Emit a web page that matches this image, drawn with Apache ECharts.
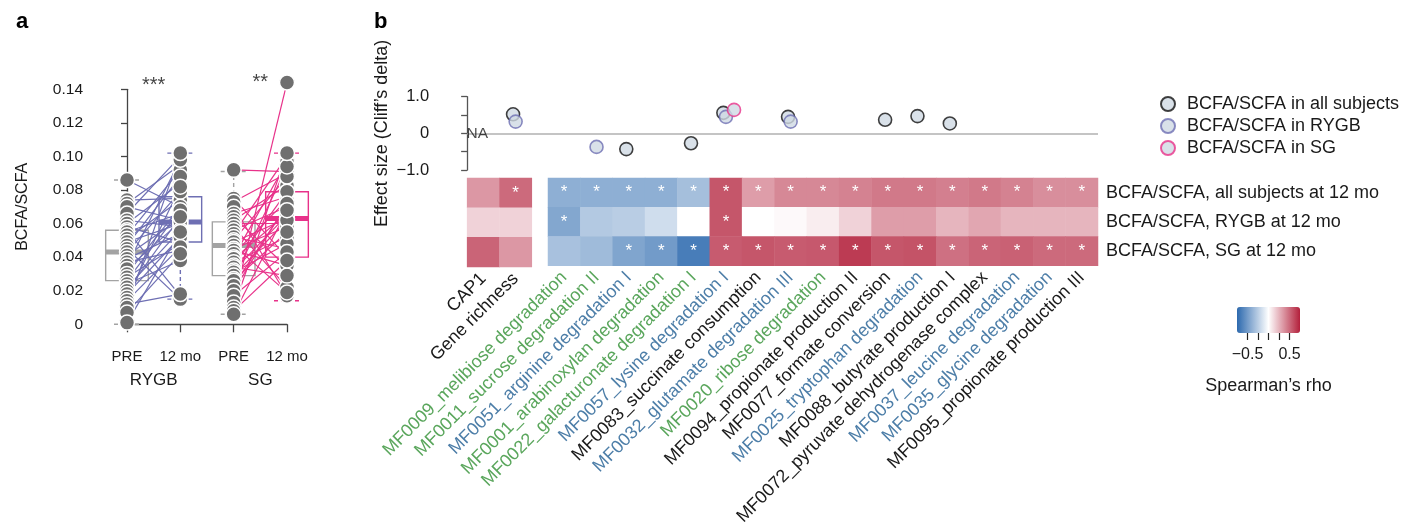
<!DOCTYPE html>
<html>
<head>
<meta charset="utf-8">
<script src="https://cdn.jsdelivr.net/npm/echarts@6/dist/echarts.min.js"></script>
<style>
  html, body { margin: 0; padding: 0; background: #fff; }
  #chart { width: 1413px; height: 528px; }
</style>
</head>
<body>
<div id="chart"></div>
<script>
// ---------- Panel a: BCFA/SCFA before and 12 months after surgery ----------
const timepoints = ['PRE', '12 mo', 'PRE', '12 mo'];
const surgeries = ['RYGB', 'SG'];

// paired subjects (same index = same subject)
const rygbPre  = [0.086, 0.074, 0.072, 0.070, 0.066, 0.062, 0.060, 0.058, 0.056, 0.055, 0.053, 0.051, 0.049, 0.047, 0.045, 0.043, 0.041,
                  0.039, 0.037, 0.035, 0.033, 0.030, 0.028, 0.026, 0.024, 0.022, 0.020, 0.018, 0.016, 0.014, 0.012, 0.010, 0.007, 0.001];
const rygbPost = [0.070, 0.075, 0.095, 0.062, 0.100, 0.058, 0.084, 0.049, 0.017, 0.066, 0.092, 0.074, 0.060, 0.088, 0.015, 0.079, 0.063,
                  0.054, 0.044, 0.098, 0.061, 0.070, 0.048, 0.068, 0.038, 0.056, 0.064, 0.052, 0.082, 0.046, 0.018, 0.102, 0.042, 0.055];
const sgPre  = [0.092, 0.075, 0.073, 0.070, 0.066, 0.064, 0.062, 0.060, 0.058, 0.056, 0.054, 0.052, 0.050, 0.049, 0.047, 0.045, 0.044, 0.042,
                0.040, 0.039, 0.037, 0.035, 0.034, 0.032, 0.031, 0.029, 0.027, 0.026, 0.023, 0.020, 0.017, 0.013, 0.010, 0.008, 0.006];
const sgPost = [0.091, 0.040, 0.090, 0.017, 0.076, 0.034, 0.083, 0.060, 0.022, 0.070, 0.100, 0.045, 0.088, 0.063, 0.019, 0.058, 0.035, 0.074,
                0.097, 0.066, 0.052, 0.079, 0.029, 0.065, 0.048, 0.062, 0.094, 0.055, 0.071, 0.072, 0.043, 0.144, 0.102, 0.038, 0.068];

// box summaries: [lower whisker, Q1, median, Q3, upper whisker]
const rygbPreBox  = [0.000, 0.026, 0.043, 0.056, 0.086];
const rygbPostBox = [0.015, 0.049, 0.061, 0.076, 0.102];
const sgPreBox    = [0.006, 0.029, 0.047, 0.061, 0.091];
const sgPostBox   = [0.014, 0.040, 0.063, 0.079, 0.102];
const boxStats = [rygbPreBox, rygbPostBox, sgPreBox, sgPostBox];

const pairStars = ['***', '**'];
const starLevel = [0.142, 0.144];

// ---------- Panel b: associations with BCFA/SCFA ----------
const features = [
  'CAP1', 'Gene richness',
  'MF0009_melibiose degradation', 'MF0011_sucrose degradation II', 'MF0051_arginine degradation I',
  'MF0001_arabinoxylan degradation', 'MF0022_galacturonate degradation I', 'MF0057_lysine degradation I',
  'MF0083_succinate consumption', 'MF0032_glutamate degradation III', 'MF0020_ribose degradation',
  'MF0094_propionate production II', 'MF0077_formate conversion', 'MF0025_tryptophan degradation',
  'MF0088_butyrate production I', 'MF0072_pyruvate dehydrogenase complex', 'MF0037_leucine degradation',
  'MF0035_glycine degradation', 'MF0095_propionate production III'
];
const featureClass = ['other', 'other', 'carb', 'carb', 'amino', 'carb', 'carb', 'amino', 'other', 'amino', 'carb',
                      'other', 'other', 'amino', 'other', 'other', 'amino', 'amino', 'other'];
const heatRows = ['BCFA/SCFA, all subjects at 12 mo', 'BCFA/SCFA, RYGB at 12 mo', 'BCFA/SCFA, SG at 12 mo'];

// Spearman's rho per feature
const rhoAll  = [0.35, 0.50, -0.40, -0.40, -0.40, -0.40, -0.32, 0.57, 0.33, 0.40, 0.40, 0.42, 0.45, 0.45, 0.43, 0.45, 0.42, 0.38, 0.38];
const rhoRygb = [0.15, 0.15, -0.44, -0.27, -0.25, -0.17, 0.00, 0.57, 0.00, 0.02, 0.06, 0.15, 0.33, 0.33, 0.25, 0.30, 0.25, 0.25, 0.25];
const rhoSg   = [0.52, 0.35, -0.31, -0.34, -0.45, -0.50, -0.65, 0.55, 0.57, 0.55, 0.56, 0.66, 0.57, 0.58, 0.48, 0.52, 0.53, 0.50, 0.50];
// significance flags
const sigAll  = [0, 1, 1, 1, 1, 1, 1, 1, 1, 1, 1, 1, 1, 1, 1, 1, 1, 1, 1];
const sigRygb = [0, 0, 1, 0, 0, 0, 0, 1, 0, 0, 0, 0, 0, 0, 0, 0, 0, 0, 0];
const sigSg   = [0, 0, 0, 0, 1, 1, 1, 1, 1, 1, 1, 1, 1, 1, 1, 1, 1, 1, 1];

// Cliff's delta of the feature change (null = no point drawn)
const deltaAll  = [null, 0.52, null, null, -0.43, null, -0.27, 0.56, null, 0.45, null, null, 0.37, 0.47, 0.27, null, null, null, null];
const deltaRygb = [null, 0.32, null, -0.37, null, null, null, 0.45, null, 0.32, null, null, null, null, null, null, null, null, null];
const deltaSg   = [null, null, null, null, null, null, null, 0.64, null, null, null, null, null, null, null, null, null, null, null];
const naFeatures = ['CAP1'];

const colorbarTicks = [-0.5, -0.25, 0, 0.25, 0.5];
const colorbarLabels = [-0.5, 0.5];

// ---------- styling / layout ----------
const FONT = 'Liberation Sans, Arial, sans-serif';
const TXT = '#1a1a1a';
const RYGB_C = '#6e6fb3';
const SG_C = '#e8328a';
const PRE_C = '#a3a3a3';
const boxColors = [PRE_C, RYGB_C, PRE_C, SG_C];
const labelColors = { other: '#1a1a1a', carb: '#5aa65c', amino: '#4d7ea8' };
const FS_B = 18;

const HM_RIGHT = 1098, HM_LEFT = 548, HM_TOP = 178, HM_H = 89;
const nMF = features.length - 2;
const unit = (HM_RIGHT - HM_LEFT) / nMF;
const effLeft = HM_RIGHT - (features.length + 0.5) * unit;

// x position of a feature column on the effect-size axis (half-column gap after the first two)
const colPos = i => (i < 2 ? i + 0.5 : i + 1.0);
const separators = [7, 12, 17].map(i => colPos(i) - 0.5);

function effectData(arr, dodge) {
  const out = [];
  arr.forEach((v, i) => { if (v !== null) out.push([colPos(i) + dodge, v]); });
  return out;
}

function heatData(start, end) {
  const out = [];
  [rhoAll, rhoRygb, rhoSg].forEach((row, r) => {
    const sig = [sigAll, sigRygb, sigSg][r];
    for (let i = start; i < end; i++) out.push([i - start, r, row[i], sig[i]]);
  });
  return out;
}

function renderBox(params, api) {
  const x = api.value(0);
  const lo = api.coord([x, api.value(1)]);
  const q1 = api.coord([x, api.value(2)]);
  const md = api.coord([x, api.value(3)]);
  const q3 = api.coord([x, api.value(4)]);
  const hi = api.coord([x, api.value(5)]);
  const c = boxColors[params.dataIndex];
  const half = api.size([1, 0])[0] * 0.4;
  const cap = 13;
  const cx = lo[0];
  const thin = { stroke: c, lineWidth: 1.4, fill: null };
  const dash = { stroke: c, lineWidth: 1.4, lineDash: [4, 3] };
  return {
    type: 'group',
    children: [
      { type: 'line', shape: { x1: cx, y1: q3[1], x2: cx, y2: hi[1] }, style: dash },
      { type: 'line', shape: { x1: cx, y1: q1[1], x2: cx, y2: lo[1] }, style: dash },
      { type: 'line', shape: { x1: cx - cap, y1: hi[1], x2: cx + cap, y2: hi[1] }, style: dash },
      { type: 'line', shape: { x1: cx - cap, y1: lo[1], x2: cx + cap, y2: lo[1] }, style: dash },
      { type: 'rect', shape: { x: cx - half, y: q3[1], width: 2 * half, height: q1[1] - q3[1] }, style: thin },
      { type: 'line', shape: { x1: cx - half, y1: md[1], x2: cx + half, y2: md[1] }, style: { stroke: c, lineWidth: 5 } }
    ]
  };
}

const pairLines = (pre, post, x0) => pre.map((v, i) => ({ coords: [[x0, v], [x0 + 1, post[i]]] }));
const dots = [].concat(
  rygbPre.map(v => [0, v]), rygbPost.map(v => [1, v]),
  sgPre.map(v => [2, v]), sgPost.map(v => [3, v])
);

const effectItem = border => ({ color: '#cfdae3', borderColor: border, borderWidth: 1.6 });

const option = {
  animation: false,
  textStyle: { fontFamily: FONT, color: TXT },
  title: [
    { text: 'a', left: 11, top: 6, textStyle: { fontSize: 22, fontWeight: 'bold', color: '#000', fontFamily: FONT } },
    { text: 'b', left: 369, top: 6, textStyle: { fontSize: 22, fontWeight: 'bold', color: '#000', fontFamily: FONT } }
  ],
  legend: {
    orient: 'vertical', left: 1160, top: 95, padding: 0, itemGap: 4, itemWidth: 14, itemHeight: 14, icon: 'circle',
    data: ['BCFA/SCFA in all subjects', 'BCFA/SCFA in RYGB', 'BCFA/SCFA in SG'],
    textStyle: { fontSize: FS_B, color: TXT, fontFamily: FONT, padding: [0, 0, 0, 7] },
    selectedMode: false
  },
  grid: [
    { left: 127, top: 89.3, width: 160, height: 235 },
    { left: effLeft, top: 96.7, width: HM_RIGHT - effLeft, height: 73.3 },
    { left: effLeft, top: HM_TOP, width: 2 * unit, height: HM_H },
    { left: HM_LEFT, top: HM_TOP, width: HM_RIGHT - HM_LEFT, height: HM_H },
    { left: 1237, top: 332, width: 63, height: 1 }
  ],
  xAxis: [
    { gridIndex: 0, type: 'value', min: 0, max: 3, interval: 1, offset: 10,
      axisLine: { lineStyle: { color: '#444', width: 1.3 } },
      axisTick: { length: 8, lineStyle: { color: '#444', width: 1.3 } },
      splitLine: { show: false },
      axisLabel: { fontSize: 15, color: TXT, margin: 15, formatter: v => timepoints[v] } },
    { gridIndex: 0, type: 'value', min: 0, max: 3, offset: 10, position: 'bottom',
      axisLine: { show: false }, axisTick: { show: false }, splitLine: { show: false },
      axisLabel: { customValues: [0.5, 2.5], fontSize: 17, color: TXT, margin: 38,
                   formatter: v => surgeries[Math.round(v - 0.5) / 2] } },
    { gridIndex: 1, type: 'value', min: 0, max: features.length + 0.5, show: false },
    { gridIndex: 2, type: 'category', data: features.slice(0, 2),
      axisLine: { show: false }, axisTick: { show: false },
      axisLabel: { interval: 0, rotate: 45, margin: 9, fontSize: FS_B,
                   color: (v, i) => labelColors[featureClass[i]] } },
    { gridIndex: 3, type: 'category', data: features.slice(2),
      axisLine: { show: false }, axisTick: { show: false },
      axisLabel: { interval: 0, rotate: 45, margin: 9, fontSize: FS_B,
                   color: (v, i) => labelColors[featureClass[i + 2]] } },
    { gridIndex: 4, type: 'value', min: -0.75, max: 0.75,
      name: 'Spearman\u2019s rho', nameLocation: 'middle', nameGap: 44,
      nameTextStyle: { fontSize: FS_B, color: TXT, fontFamily: FONT },
      axisLine: { show: false }, splitLine: { show: false },
      axisTick: { customValues: colorbarTicks, length: 7, lineStyle: { color: '#222', width: 1.2 } },
      axisLabel: { customValues: colorbarLabels, fontSize: 16, color: TXT, margin: 14,
                   formatter: v => (v < 0 ? '\u2212' + Math.abs(v) : String(v)) } }
  ],
  yAxis: [
    { gridIndex: 0, type: 'value', min: 0, max: 0.14, interval: 0.02, offset: 36,
      name: 'BCFA/SCFA', nameLocation: 'middle', nameGap: 60,
      nameTextStyle: { fontSize: 16, color: TXT, fontFamily: FONT },
      axisLine: { show: true, lineStyle: { color: '#444', width: 1.3 } },
      axisTick: { show: true, length: 6, lineStyle: { color: '#444', width: 1.3 } },
      splitLine: { show: false },
      axisLabel: { fontSize: 15.5, color: TXT, margin: 8, formatter: v => (v === 0 ? '0' : v.toFixed(2)) } },
    { gridIndex: 1, type: 'value', min: -1, max: 1, interval: 0.5, offset: 26,
      name: 'Effect size (Cliff\u2019s delta)', nameLocation: 'middle', nameGap: 50,
      nameTextStyle: { fontSize: FS_B, color: TXT, fontFamily: FONT },
      axisLine: { show: true, lineStyle: { color: '#555', width: 1.3 } },
      axisTick: { show: true, length: 6, lineStyle: { color: '#555', width: 1.3 } },
      splitLine: { show: false },
      axisLabel: { fontSize: 16.5, color: TXT, margin: 12,
                   formatter: v => (v === 1 ? '1.0' : v === 0 ? '0' : v === -1 ? '\u22121.0' : '') } },
    { gridIndex: 2, type: 'category', data: heatRows, inverse: true, show: false },
    { gridIndex: 3, type: 'category', data: heatRows, inverse: true, position: 'right',
      axisLine: { show: false }, axisTick: { show: false },
      axisLabel: { fontSize: FS_B, color: TXT, margin: 8 } },
    { gridIndex: 4, type: 'value', show: false }
  ],
  visualMap: {
    type: 'continuous', min: -0.75, max: 0.75, dimension: 2, seriesIndex: [9, 10],
    orient: 'horizontal', left: 1237, top: 307, itemWidth: 26, itemHeight: 63,
    calculable: false, hoverLink: false, padding: 0, text: null,
    inRange: { color: ['#2c69ae', '#ffffff', '#b3203b'] }
  },
  series: [
    // 0: boxes
    { type: 'custom', xAxisIndex: 0, yAxisIndex: 0, renderItem: renderBox, silent: true, clip: false,
      encode: { x: 0, y: [1, 2, 3, 4, 5] },
      data: boxStats.map((s, i) => [i].concat(s)), z: 1 },
    // 1-2: subject trajectories
    { type: 'lines', coordinateSystem: 'cartesian2d', xAxisIndex: 0, yAxisIndex: 0, silent: true, z: 2,
      lineStyle: { color: RYGB_C, width: 1.2, opacity: 1 }, data: pairLines(rygbPre, rygbPost, 0) },
    { type: 'lines', coordinateSystem: 'cartesian2d', xAxisIndex: 0, yAxisIndex: 0, silent: true, z: 2,
      lineStyle: { color: SG_C, width: 1.2, opacity: 1 }, data: pairLines(sgPre, sgPost, 2) },
    // 3: subject values
    { type: 'scatter', xAxisIndex: 0, yAxisIndex: 0, symbolSize: 15, clip: false, silent: true, z: 3,
      itemStyle: { color: '#6f6f6f', borderColor: '#ffffff', borderWidth: 1.5, opacity: 1 }, data: dots },
    // 4: significance stars
    { type: 'scatter', xAxisIndex: 0, yAxisIndex: 0, symbolSize: 0, clip: false, silent: true, z: 4,
      label: { show: true, position: 'inside', formatter: p => p.name, fontSize: 20, color: '#111', fontFamily: FONT },
      data: pairStars.map((s, i) => ({ name: s, value: [0.5 + 2 * i, starLevel[i]] })) },
    // 5-7: effect sizes
    { type: 'scatter', name: 'BCFA/SCFA in all subjects', xAxisIndex: 2, yAxisIndex: 1, symbolSize: 13, clip: false,
      itemStyle: effectItem('#111111'), data: effectData(deltaAll, -0.08), z: 3,
      markLine: {
        silent: true, symbol: 'none', label: { show: false }, animation: false,
        lineStyle: { color: '#b0b0b0', width: 1.5, type: 'solid' },
        data: [{ yAxis: 0 }].concat(separators.map(x => [{ coord: [x, 1] }, { coord: [x, -1.17] }]))
      } },
    { type: 'scatter', name: 'BCFA/SCFA in RYGB', xAxisIndex: 2, yAxisIndex: 1, symbolSize: 13, clip: false,
      itemStyle: effectItem(RYGB_C), data: effectData(deltaRygb, 0), z: 4 },
    { type: 'scatter', name: 'BCFA/SCFA in SG', xAxisIndex: 2, yAxisIndex: 1, symbolSize: 13, clip: false,
      itemStyle: effectItem(SG_C), data: effectData(deltaSg, 0.25), z: 5 },
    // 8: missing effect sizes
    { type: 'scatter', xAxisIndex: 2, yAxisIndex: 1, symbolSize: 0, silent: true, z: 6,
      label: { show: true, position: 'inside', formatter: 'NA', fontSize: 15.5, color: TXT, offset: [-6, 0] },
      data: naFeatures.map(f => [colPos(features.indexOf(f)), 0]) },
    // 9-10: correlation heatmaps
    { type: 'heatmap', xAxisIndex: 3, yAxisIndex: 2, silent: true, data: heatData(0, 2),
      label: { show: true, formatter: p => (p.value[3] ? '*' : ''), color: '#fff', fontSize: 17 } },
    { type: 'heatmap', xAxisIndex: 4, yAxisIndex: 3, silent: true, data: heatData(2, features.length),
      label: { show: true, formatter: p => (p.value[3] ? '*' : ''), color: '#fff', fontSize: 17 } }
  ]
};

const chart = echarts.init(document.getElementById('chart'), null, { renderer: 'canvas' });
chart.setOption(option);
</script>
</body>
</html>
